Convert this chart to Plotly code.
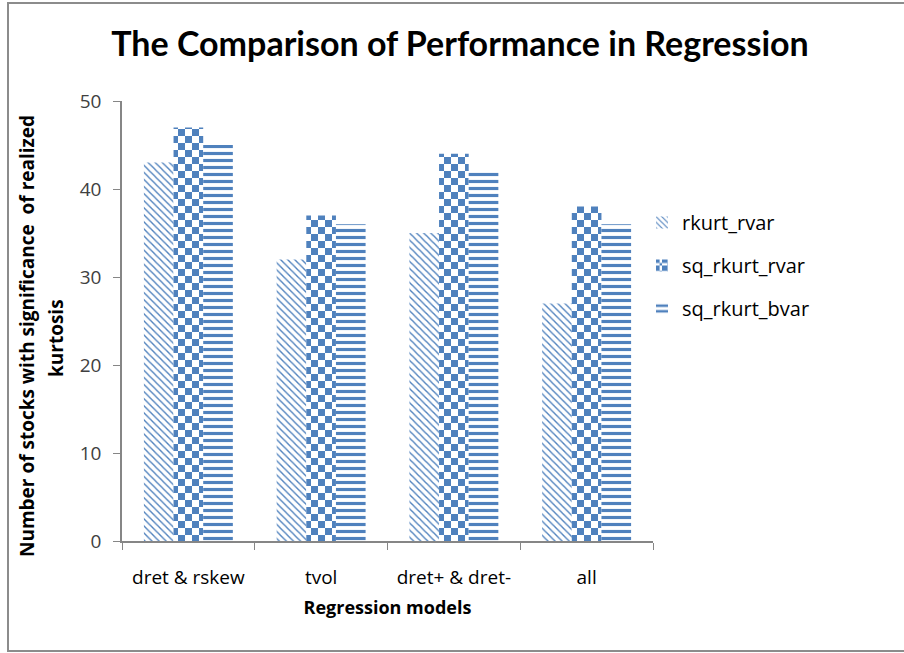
import plotly.graph_objects as go

categories = ["dret & rskew", "tvol", "dret+ & dret-", "all"]
rkurt_rvar = [43, 32, 35, 27]
sq_rkurt_rvar = [47, 37, 44, 38]
sq_rkurt_bvar = [45, 36, 42, 36]
y_ticks = [0, 10, 20, 30, 40, 50]

BLUE = "#4F81BD"
TFONT = "Lato"
FONT = "Open Sans"

fig = go.Figure()
fig.add_trace(go.Bar(
    x=categories, y=rkurt_rvar, name="rkurt_rvar", legendgroup="a",
    marker=dict(color="white", line=dict(width=0),
                pattern=dict(shape="\\", fgcolor=BLUE, bgcolor="white",
                             size=5, solidity=0.28, fillmode="replace")),
))
fig.add_trace(go.Bar(
    x=categories, y=sq_rkurt_rvar, name="sq_rkurt_rvar", legendgroup="b",
    marker=dict(color="white", line=dict(width=0),
                pattern=dict(path="M0,0H7V7H0Z M7,7H14V14H7Z",
                             fgcolor=BLUE, fgopacity=1, bgcolor="white",
                             size=14, fillmode="replace")),
))
fig.add_trace(go.Bar(
    x=categories, y=sq_rkurt_bvar, name="sq_rkurt_bvar", legendgroup="c",
    marker=dict(color="white", line=dict(width=0),
                pattern=dict(shape="-", fgcolor=BLUE, bgcolor="white",
                             size=7, solidity=0.45, fillmode="replace")),
))

L, R, T, B = 122, 251, 101, 112
W, H = 904, 653
pw, ph = W - L - R, H - T - B

def px_x(p):
    return (p - L) / pw

def px_y(p):
    return (H - B - p) / ph

fig.update_layout(
    width=W, height=H,
    margin=dict(l=L, r=R, t=T, b=B),
    paper_bgcolor="white", plot_bgcolor="white",
    barmode="group", bargap=0.33, bargroupgap=0,
    font=dict(family=FONT, size=17, color="#404040"),
    title=dict(text="<b>The Comparison of Performance in Regression</b>",
               x=460 / W, xref="container", xanchor="center",
               y=1 - 44 / H, yref="container", yanchor="middle",
               font=dict(family=TFONT, size=34, color="black")),
    showlegend=True,
    legend=dict(x=px_x(642), y=px_y(203), xanchor="left", yanchor="top",
                font=dict(family=FONT, size=20, color="black"),
                traceorder="grouped", tracegroupgap=14,
                bgcolor="rgba(0,0,0,0)", itemwidth=30),
    xaxis=dict(
        showline=True, linecolor="#868686", linewidth=1.5,
        ticks="outside", tickson="boundaries", ticklen=7, tickcolor="#868686",
        tickfont=dict(family=FONT, size=19, color="black"),
        ticklabelstandoff=18,
        title=dict(text="<b>Regression models</b>", standoff=13,
                   font=dict(family=FONT, size=18, color="black")),
        showgrid=False,
    ),
    yaxis=dict(
        range=[0, 50], tickvals=y_ticks, ticks="outside", ticklen=7,
        tickcolor="#868686", showline=True, linecolor="#868686", linewidth=1.5,
        showgrid=False, zeroline=False, ticklabelstandoff=8,
        tickfont=dict(family=FONT, size=19, color="#404040"),
    ),
    annotations=[
        dict(text="<b>Number of stocks with significance  of realized</b>",
             textangle=-90, x=px_x(27), y=px_y(336), xref="paper", yref="paper",
             showarrow=False, font=dict(family=FONT, size=19, color="black"),
             xanchor="center", yanchor="middle"),
        dict(text="<b>kurtosis</b>",
             textangle=-90, x=px_x(56), y=px_y(338), xref="paper", yref="paper",
             showarrow=False, font=dict(family=FONT, size=19, color="black"),
             xanchor="center", yanchor="middle"),
    ],
    shapes=[dict(type="rect", xref="paper", yref="paper",
                 x0=px_x(8), x1=px_x(915), y0=px_y(651), y1=px_y(3),
                 line=dict(color="#8c8c8c", width=2))],
)

fig.write_html("out.html", config={"displayModeBar": False},
               post_script="document.body.style.margin='0px';")
